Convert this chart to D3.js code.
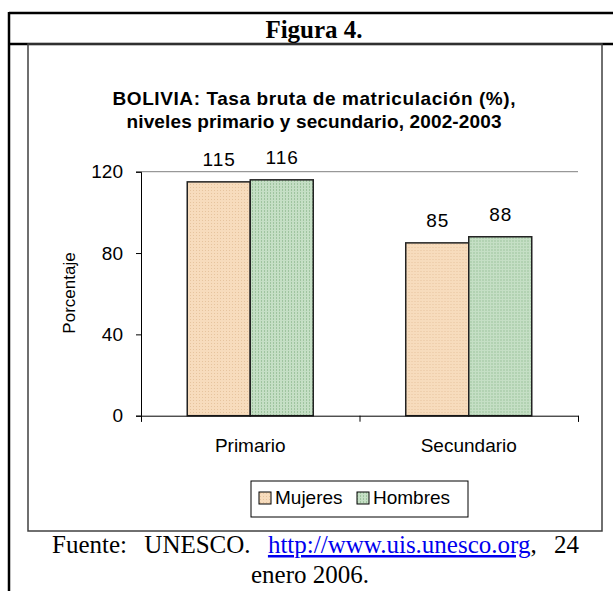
<!DOCTYPE html>
<html>
<head>
<meta charset="utf-8">
<script src="https://cdn.jsdelivr.net/npm/d3@7"></script>
<style>
  body { margin: 0; background: #fff; }
  svg { display: block; }
  .sans { font-family: Arial, "Liberation Sans", sans-serif; }
  .serif { font-family: "Times New Roman", "Liberation Serif", serif; }
</style>
</head>
<body>
<svg id="chart" width="613" height="591"></svg>
<script>
var categories = ['Primario', 'Secundario'];
var series = ['Mujeres', 'Hombres'];
var mujeres = [115, 85];
var hombres = [116, 88];
var yTicks = [0, 40, 80, 120];

var colors = { Mujeres: '#f7dcbd', Hombres: '#c5dfc5' };
var dots = { Mujeres: '#e6c49e', Hombres: '#9fc49f' };

var svg = d3.select('#chart');

// patterned fills like the excel bars
var defs = svg.append('defs');
series.forEach(function (s) {
    var p = defs.append('pattern')
        .attr('id', 'pat-' + s)
        .attr('width', 3).attr('height', 3)
        .attr('patternUnits', 'userSpaceOnUse');
    p.append('rect').attr('width', 3).attr('height', 3).attr('fill', colors[s]);
    if (s === 'Hombres') {
        p.append('rect').attr('x', 0).attr('y', 0).attr('width', 1).attr('height', 2).attr('fill', dots[s]);
    } else {
        p.append('rect').attr('x', 1).attr('y', 1).attr('width', 1).attr('height', 1).attr('fill', dots[s]);
    }
});

// outer document frame
svg.append('line').attr('x1', 9).attr('x2', 613).attr('y1', 13).attr('y2', 13)
    .attr('stroke', '#000').attr('stroke-width', 2.5);
svg.append('line').attr('x1', 9).attr('x2', 613).attr('y1', 44).attr('y2', 44)
    .attr('stroke', '#000').attr('stroke-width', 2.5);
svg.append('line').attr('x1', 9).attr('x2', 9).attr('y1', 12).attr('y2', 591)
    .attr('stroke', '#000').attr('stroke-width', 2.5);

svg.append('text').attr('class', 'serif')
    .attr('x', 314).attr('y', 38)
    .attr('text-anchor', 'middle')
    .attr('font-size', 25).attr('font-weight', 'bold')
    .text('Figura 4.');

// chart area box
svg.append('rect').attr('x', 28).attr('y', 44).attr('width', 574).attr('height', 487)
    .attr('fill', 'none').attr('stroke', '#404040').attr('stroke-width', 1.5);

var title = ['BOLIVIA: Tasa bruta de matriculación (%),', 'niveles primario y secundario, 2002-2003'];
var titleW = [403, 375];
svg.append('g').selectAll('text')
    .data(title)
    .enter().append('text')
    .attr('class', 'sans')
    .attr('x', 314)
    .attr('y', (d, i) => 105 + i * 23)
    .attr('text-anchor', 'middle')
    .attr('font-size', 19).attr('font-weight', 'bold')
    .attr('textLength', (d, i) => titleW[i])
    .attr('lengthAdjust', 'spacing')
    .text(d => d);

var x0 = d3.scaleBand().domain(categories).range([141, 578]);
var x1 = d3.scaleBand().domain(series).range([0, x0.bandwidth()]).paddingOuter(0.734);
var y = d3.scaleLinear().domain([0, 120]).range([415.7, 171.7]);

// top gridline
svg.append('line')
    .attr('x1', x0.range()[0]).attr('x2', x0.range()[1])
    .attr('y1', y(120)).attr('y2', y(120))
    .attr('stroke', '#808080').attr('stroke-width', 1);

var table = categories.map((c, i) => ({ cat: c, values: [
    { s: 'Mujeres', v: mujeres[i] },
    { s: 'Hombres', v: hombres[i] }
] }));

var groups = svg.append('g').selectAll('g')
    .data(table)
    .enter().append('g')
    .attr('transform', d => `translate(${x0(d.cat)},0)`);

groups.selectAll('rect')
    .data(d => d.values)
    .enter().append('rect')
    .attr('x', d => x1(d.s))
    .attr('y', d => y(d.v))
    .attr('width', x1.bandwidth())
    .attr('height', d => y(0) - y(d.v))
    .attr('fill', d => `url(#pat-${d.s})`)
    .attr('stroke', '#222').attr('stroke-width', 1.5);

groups.selectAll('text')
    .data(d => d.values)
    .enter().append('text')
    .attr('class', 'sans')
    .attr('x', d => x1(d.s) + x1.bandwidth() / 2 + 0.5)
    .attr('y', d => y(d.v) - 16)
    .attr('text-anchor', 'middle')
    .attr('font-size', 19).attr('letter-spacing', 1)
    .text(d => d.v);

// axes
var yAxis = svg.append('g')
    .attr('transform', `translate(${x0.range()[0]},0)`)
    .call(d3.axisLeft(y).tickValues(yTicks).tickSize(5).tickPadding(13));
yAxis.select('.domain').attr('stroke', '#000');
yAxis.selectAll('text').attr('class', 'sans').attr('font-size', 19).attr('fill', '#000');

var xTickScale = d3.scalePoint().domain(d3.range(categories.length + 1)).range(x0.range());
var xTicks = svg.append('g')
    .attr('transform', `translate(0,${y(0)})`)
    .call(d3.axisBottom(xTickScale).tickSize(6).tickFormat(''));
xTicks.select('.domain').attr('stroke', '#000');

svg.append('g').selectAll('text')
    .data(categories)
    .enter().append('text')
    .attr('class', 'sans')
    .attr('x', d => x0(d) + x0.bandwidth() / 2)
    .attr('y', 452)
    .attr('text-anchor', 'middle')
    .attr('font-size', 19)
    .text(d => d);

svg.append('text').attr('class', 'sans')
    .attr('transform', 'translate(75,293) rotate(-90)')
    .attr('text-anchor', 'middle')
    .attr('font-size', 17)
    .text('Porcentaje');

// legend
var legend = svg.append('g').attr('transform', 'translate(251,481)');
legend.append('rect').attr('width', 217).attr('height', 36)
    .attr('fill', '#fff').attr('stroke', '#000').attr('stroke-width', 1);
var legendX = [8, 106];
var li = legend.selectAll('g.item')
    .data(series)
    .enter().append('g')
    .attr('transform', (d, i) => `translate(${legendX[i]},11)`);
li.append('rect').attr('width', 12).attr('height', 12)
    .attr('fill', d => `url(#pat-${d})`)
    .attr('stroke', '#000').attr('stroke-width', 1);
li.append('text').attr('class', 'sans')
    .attr('x', 16).attr('y', 12)
    .attr('font-size', 19)
    .text(d => d);

// source note, first line is justified in the original so spaces stretch
var foot = svg.append('text').attr('class', 'serif')
    .attr('x', 52).attr('y', 553)
    .attr('font-size', 25);
foot.append('tspan').text('Fuente: UNESCO. ');
foot.append('tspan').attr('fill', '#0000ee').attr('text-decoration', 'underline')
    .text('http://www.uis.unesco.org');
foot.append('tspan').text(', 24');
var natural = foot.node().getComputedTextLength();
foot.attr('word-spacing', Math.max(0, (527 - natural) / 3));

svg.append('text').attr('class', 'serif')
    .attr('x', 310).attr('y', 583)
    .attr('text-anchor', 'middle')
    .attr('font-size', 25)
    .text('enero 2006.');
</script>
</body>
</html>
